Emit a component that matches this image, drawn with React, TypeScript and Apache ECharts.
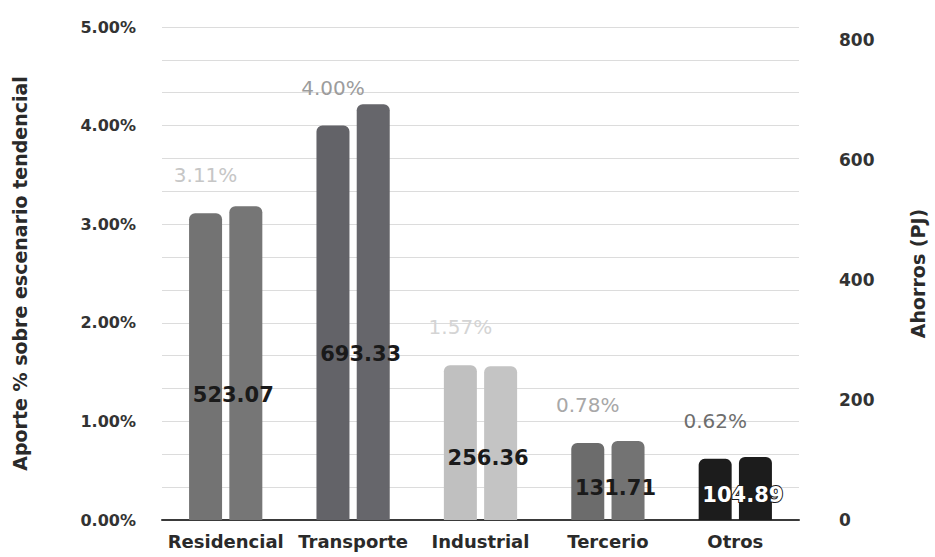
import React, { useEffect, useRef } from "react";
import * as echarts from "echarts";

const categories = ["Residencial", "Transporte", "Industrial", "Tercerio", "Otros"];
const pctValues = [3.11, 4.0, 1.57, 0.78, 0.62];
const pjValues = [523.07, 693.33, 256.36, 131.71, 104.89];

const leftBarColors = ["#737373", "#636368", "#c0c0c0", "#6c6c6c", "#1c1c1c"];
const rightBarColors = ["#767676", "#66666b", "#c4c4c4", "#737373", "#1c1c1c"];
const pctLabelColors = ["#c6c6c6", "#9c9c9c", "#d4d4d4", "#a8a8a8", "#6e6e6e"];
const pjLabelColors = ["#1a1a1a", "#1a1a1a", "#1a1a1a", "#1a1a1a", "#ffffff"];
const pjLabelBorders = [0, 0, 0, 0, 2];

const FONT = "DejaVu Sans";

export default function App() {
  const ref = useRef<HTMLDivElement>(null);
  useEffect(() => {
    if (!ref.current) return;
    const chart = echarts.init(ref.current, undefined, { renderer: "svg" });
    chart.setOption({
      animation: false,
      backgroundColor: "#ffffff",
      textStyle: { fontFamily: FONT },
      grid: { left: 162, right: 132, top: 27, bottom: 37, containLabel: false },
      xAxis: {
        type: "category",
        data: categories,
        axisLine: { show: true, lineStyle: { color: "#3a3a3a", width: 2 } },
        axisTick: { show: false },
        axisLabel: {
          interval: 0,
          margin: 12,
          color: "#2a2a2a",
          fontWeight: "bold",
          fontSize: 18,
          fontFamily: FONT,
        },
      },
      yAxis: [
        {
          type: "value",
          min: 0,
          max: 5,
          interval: 1,
          name: "Aporte % sobre escenario tendencial",
          nameLocation: "middle",
          nameRotate: 90,
          nameGap: 133,
          nameTextStyle: { color: "#2a2a2a", fontWeight: "bold", fontSize: 19, fontFamily: FONT },
          axisLine: { show: false },
          axisTick: { show: false },
          axisLabel: {
            margin: 26,
            color: "#333333",
            fontWeight: "bold",
            fontSize: 16,
            fontFamily: FONT,
            formatter: (v: number) => v.toFixed(2) + "%",
          },
          splitLine: { show: true, lineStyle: { color: "#dcdcdc", width: 1 } },
          minorTick: { show: false, splitNumber: 3 },
          minorSplitLine: { show: true, lineStyle: { color: "#dcdcdc", width: 1 } },
        },
        {
          type: "value",
          min: 0,
          max: 822,
          interval: 200,
          name: "Ahorros (PJ)",
          nameLocation: "middle",
          nameRotate: 90,
          nameGap: 109,
          nameTextStyle: { color: "#2a2a2a", fontWeight: "bold", fontSize: 19, fontFamily: FONT },
          axisLine: { show: false },
          axisTick: { show: false },
          splitLine: { show: false },
          axisLabel: {
            margin: 40,
            color: "#333333",
            fontWeight: "bold",
            fontSize: 17,
            fontFamily: FONT,
            formatter: (v: number) => (v % 200 === 0 ? String(v) : ""),
          },
        },
      ],
      series: [
        {
          name: "Aporte %",
          type: "bar",
          yAxisIndex: 0,
          barWidth: 33,
          barGap: "22%",
          data: pctValues.map((v, i) => ({
            value: v,
            itemStyle: { color: leftBarColors[i], borderRadius: [6, 6, 0, 0] },
            label: { color: pctLabelColors[i] },
          })),
          label: {
            show: true,
            position: "top",
            distance: 28,
            fontSize: 20,
            fontFamily: FONT,
            formatter: (p: any) => Number(p.value).toFixed(2) + "%",
          },
        },
        {
          name: "Ahorros (PJ)",
          type: "bar",
          yAxisIndex: 1,
          barWidth: 33,
          data: pjValues.map((v, i) => ({
            value: v,
            itemStyle: { color: rightBarColors[i], borderRadius: [6, 6, 0, 0] },
            label: {
              color: pjLabelColors[i],
              textBorderColor: "#1a1a1a",
              textBorderWidth: pjLabelBorders[i],
            },
          })),
          label: {
            show: true,
            position: ["12%", "60%"],
            align: "center",
            verticalAlign: "middle",
            fontSize: 21,
            fontWeight: "bold",
            fontFamily: FONT,
            formatter: (p: any) => Number(p.value).toFixed(2),
          },
        },
      ],
    });
    return () => chart.dispose();
  }, []);
  return (
    <div
      ref={ref}
      style={{ position: "absolute", left: 0, top: 0, width: 935, height: 557 }}
    />
  );
}
